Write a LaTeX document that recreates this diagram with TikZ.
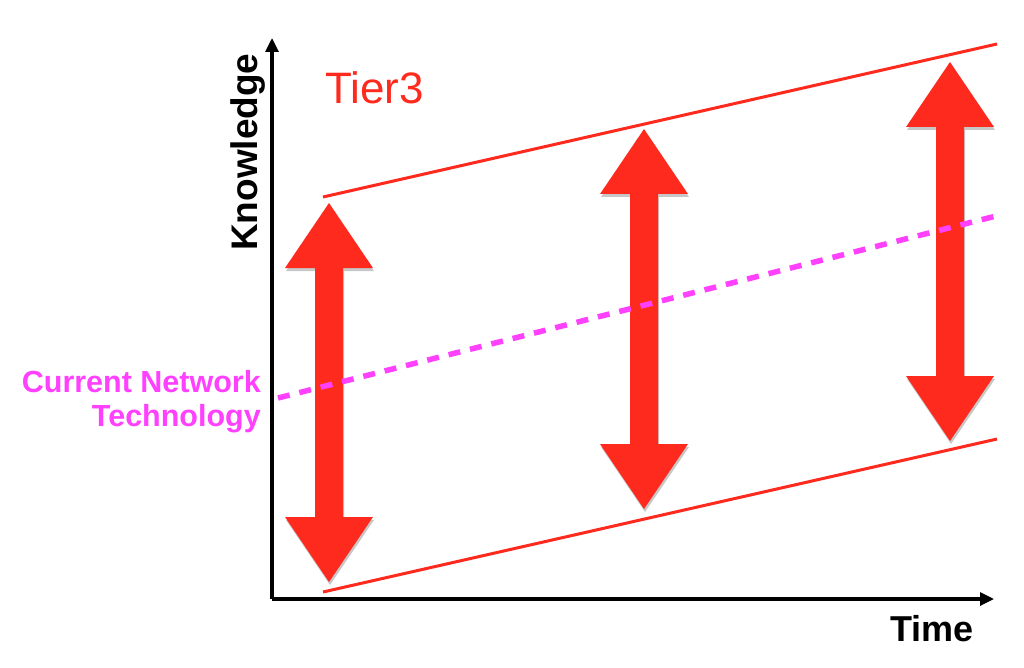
\documentclass[tikz,border=0pt]{standalone}
\usepackage{fontspec}
\setmainfont{Liberation Sans}
\usetikzlibrary{arrows.meta,shadows}
\definecolor{kred}{RGB}{255,42,30}
\definecolor{kmag}{RGB}{255,64,255}
\tikzset{
  axisline/.style={line width=3.2pt, line cap=butt, -{Triangle[length=14pt,width=13pt]}},
  bandline/.style={draw=kred, line width=3pt},
  trendline/.style={draw=kmag, line width=5.5pt, dash pattern=on 12pt off 10pt},
  bigarrow/.style={fill=kred, draw=none, drop shadow={shadow xshift=1pt, shadow yshift=-3pt, opacity=0.22, fill=black}},
  axislabel/.style={inner sep=0pt, font=\bfseries\fontsize{36}{40}\selectfont},
  techlabel/.style={inner sep=0pt, anchor=base east, text=kmag, font=\bfseries\fontsize{30.5}{34}\selectfont},
}
\newcommand\kdblarrow[3]{%
  \fill[bigarrow] (#1,#2) -- ({#1+44},{#2+65}) -- ({#1+14},{#2+65}) -- ({#1+14},{#3-65})
    -- ({#1+44},{#3-65}) -- (#1,#3) -- ({#1-44},{#3-65}) -- ({#1-14},{#3-65})
    -- ({#1-14},{#2+65}) -- ({#1-44},{#2+65}) -- cycle;}
\begin{document}
\begin{tikzpicture}[x=1pt,y=-1pt]
\useasboundingbox (0,0) rectangle (1024,668);
% axes
\coordinate (origin) at (272,599);
\coordinate (ytop) at (272,38);
\coordinate (xend) at (994,599);
\draw[axisline] (origin) -- (ytop);
\draw[axisline] (origin) -- (xend);
% band lines
\coordinate (ua) at (323,197);
\coordinate (ub) at (997,44);
\coordinate (la) at (323,592);
\coordinate (lb) at (997,439);
\draw[bandline] (ua) -- (ub);
\draw[bandline] (la) -- (lb);
% double arrows
\kdblarrow{329}{203}{582}
\kdblarrow{644}{129}{509}
\kdblarrow{950}{62}{441}
% trend
\coordinate (ta) at (278,398);
\coordinate (tb) at (1000,215);
\draw[trendline] (ta) -- (tb);
% labels
\node[inner sep=0pt, anchor=base west, text=kred, font=\fontsize{44}{50}\selectfont] (tier) at (325,104) {Tier3};
\node[axislabel, anchor=base west, rotate=90, font=\bfseries\fontsize{37}{40}\selectfont] (know) at (257,251) {Knowledge};
\node[axislabel, anchor=base west] (time) at (890,641) {Time};
\node[techlabel] (cnt1) at (261,392) {Current Network};
\node[techlabel] (cnt2) at (261,426) {Technology};
\end{tikzpicture}
\end{document}
